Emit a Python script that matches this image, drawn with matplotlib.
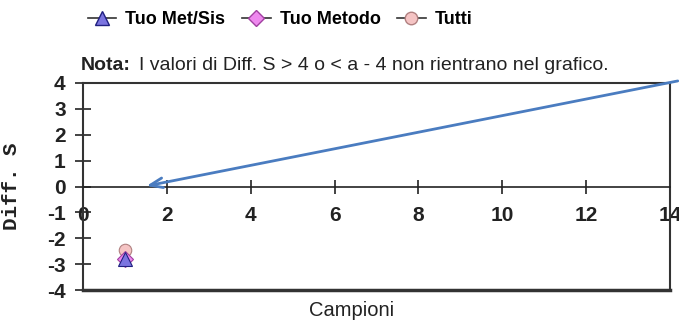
import matplotlib
matplotlib.use("Agg")
import matplotlib.pyplot as plt
from matplotlib.lines import Line2D

plt.rcParams['axes.unicode_minus'] = False

# Data
campioni = [1]
tuo_met_sis = [-2.8]
tuo_metodo = [-2.8]
tutti = [-2.45]
xticks = [0, 2, 4, 6, 8, 10, 12, 14]
yticks = [-4, -3, -2, -1, 0, 1, 2, 3, 4]
series_names = ["Tuo Met/Sis", "Tuo Metodo", "Tutti"]

fig = plt.figure(figsize=(6.79, 3.22), dpi=100)
ax = fig.add_axes([83/679, 1-290/322, (670-83)/679, (290-83)/322])
ax.set_xlim(0, 14)
ax.set_ylim(-4, 4)

ax.plot(campioni, tutti, linestyle='none', marker='o', ms=9, mfc='#f5c4c4', mec='#b08080', mew=0.8, zorder=3)
ax.plot(campioni, tuo_metodo, linestyle='none', marker='D', ms=8, mfc='#ee88ee', mec='#a040a0', mew=0.8, zorder=4)
ax.plot(campioni, tuo_met_sis, linestyle='none', marker='^', ms=10, mfc='#7b74e0', mec='#202080', mew=0.8, zorder=5)

# axes styling
for s in ['left', 'right', 'top']:
    ax.spines[s].set_color('#333333')
    ax.spines[s].set_linewidth(1.5)
ax.spines['bottom'].set_position(('data', 0))
ax.spines['bottom'].set_color('#222222')
ax.spines['bottom'].set_linewidth(1.2)
ax.axhline(-4, color='#333333', lw=2.5, clip_on=False, zorder=2)

ax.set_xticks(xticks)
ax.set_yticks(yticks)
ax.tick_params(axis='x', direction='inout', length=10, width=1.2, pad=9, labelsize=15, color='#222222')
ax.tick_params(axis='y', direction='inout', length=11, width=1.2, pad=7, labelsize=15, color='#222222')
for lab in ax.get_xticklabels() + ax.get_yticklabels():
    lab.set_fontfamily('Liberation Sans')
    lab.set_fontweight('bold')
    lab.set_color('#222222')

ax.set_ylabel("Diff. S", family='Liberation Mono', fontweight='bold', fontsize=15, color='#222222')
ax.yaxis.set_label_coords(-(83-21)/587, 0.5)
ax.set_xlabel("Campioni", family='Liberation Sans', fontsize=14.5, color='#222222')
ax.xaxis.set_label_coords((352-83)/587, -(311-290)/207)
ax.xaxis.label.set_va('center')

# legend
handles = [
    Line2D([], [], color='#333333', lw=1.2, marker='^', ms=10, mfc='#7b74e0', mec='#202080'),
    Line2D([], [], color='#333333', lw=1.2, marker='D', ms=8, mfc='#ee88ee', mec='#a040a0'),
    Line2D([], [], color='#333333', lw=1.2, marker='o', ms=9, mfc='#f5c4c4', mec='#b08080'),
]
fig.legend(handles, series_names, loc='center', bbox_to_anchor=(280/679, 1-20/322), ncol=3,
           frameon=False, handlelength=1.6, columnspacing=0.9, handletextpad=0.5,
           prop={'family': 'Liberation Sans', 'weight': 'bold', 'size': 13})

# note
fig.text(81/679, 1-65/322, "Nota:", family='Liberation Sans', fontweight='bold', fontsize=14, va='center', color='#222222')
fig.text(139/679, 1-65/322, "I valori di Diff. S > 4 o < a - 4 non rientrano nel grafico.",
         family='Liberation Sans', fontsize=14, va='center', color='#222222')

# arrow annotation
ax.annotate("", xy=(1.45, 0), xytext=(14.25, 4.1), xycoords='data', textcoords='data',
            annotation_clip=False,
            arrowprops=dict(arrowstyle='->,head_length=0.9,head_width=0.35', color='#4a7cc0', lw=2))

fig.savefig("out.png", dpi=100)
